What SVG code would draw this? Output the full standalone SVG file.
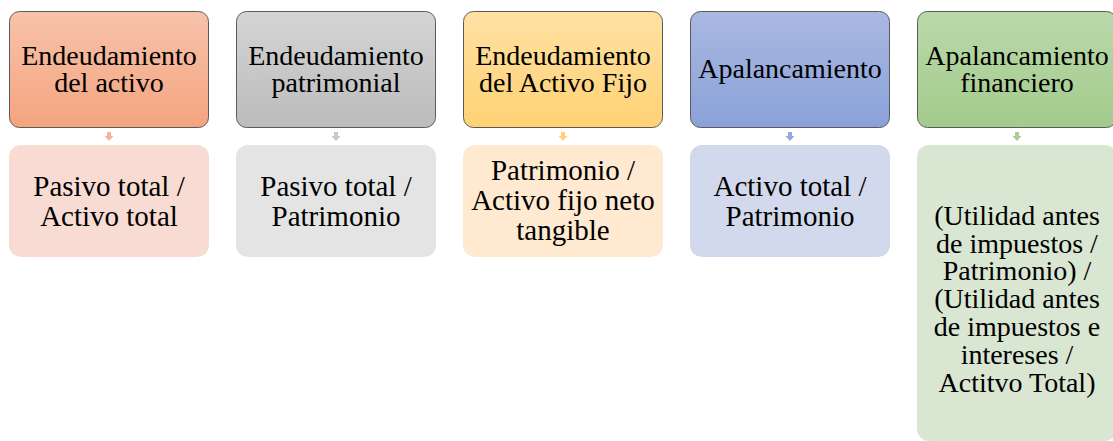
<svg xmlns="http://www.w3.org/2000/svg" width="1113" height="441" viewBox="0 0 1113 441">
<style>
.top{stroke:#5a5a5a;stroke-width:1}
text{font-family:'Liberation Serif','Tinos','DejaVu Serif',serif;fill:#000;text-anchor:middle}
.t{font-size:28px}
.b{font-size:29px}
.s{font-size:28px}
</style>
<defs>
<linearGradient id="gO" x1="0" y1="0" x2="0" y2="1"><stop offset="0" stop-color="#f7c3ab"/><stop offset="1" stop-color="#f4a47f"/></linearGradient>
<linearGradient id="gG" x1="0" y1="0" x2="0" y2="1"><stop offset="0" stop-color="#d4d4d4"/><stop offset="1" stop-color="#bcbcbc"/></linearGradient>
<linearGradient id="gY" x1="0" y1="0" x2="0" y2="1"><stop offset="0" stop-color="#ffe1a3"/><stop offset="1" stop-color="#ffd274"/></linearGradient>
<linearGradient id="gB" x1="0" y1="0" x2="0" y2="1"><stop offset="0" stop-color="#aab8e1"/><stop offset="1" stop-color="#8aa1d9"/></linearGradient>
<linearGradient id="gN" x1="0" y1="0" x2="0" y2="1"><stop offset="0" stop-color="#bad9aa"/><stop offset="1" stop-color="#a3cb8c"/></linearGradient>
<path id="arr" d="M-2,0 H2 V4 H4.5 L0,9 L-4.5,4 H-2 Z"/>
</defs>
<g id="connectors">
<use href="#arr" x="109" y="132" fill="#f5b59a"/>
<use href="#arr" x="336" y="132" fill="#c8c8c8"/>
<use href="#arr" x="563" y="132" fill="#ffd27a"/>
<use href="#arr" x="790" y="132" fill="#95a9dc"/>
<use href="#arr" x="1017" y="132" fill="#a8ce94"/>
</g>
<g id="node1" font-family="Liberation Serif, serif">
<rect class="top" x="9.5" y="11.5" width="199" height="116" rx="10" fill="url(#gO)"/>
<text class="t" x="109" y="65">Endeudamiento</text>
<text class="t" x="109" y="92">del activo</text>
</g>
<g id="node1b">
<rect x="9" y="145" width="200" height="112" rx="12" fill="#f8dbd2"/>
<text class="b" x="109" y="196">Pasivo total /</text>
<text class="b" x="109" y="226">Activo total</text>
</g>
<g id="node2">
<rect class="top" x="236.5" y="11.5" width="199" height="116" rx="10" fill="url(#gG)"/>
<text class="t" x="336" y="65">Endeudamiento</text>
<text class="t" x="336" y="92">patrimonial</text>
</g>
<g id="node2b">
<rect x="236" y="145" width="200" height="112" rx="12" fill="#e4e4e4"/>
<text class="b" x="336" y="196">Pasivo total /</text>
<text class="b" x="336" y="226">Patrimonio</text>
</g>
<g id="node3">
<rect class="top" x="463.5" y="11.5" width="199" height="116" rx="10" fill="url(#gY)"/>
<text class="t" x="563" y="65">Endeudamiento</text>
<text class="t" x="563" y="92">del Activo Fijo</text>
</g>
<g id="node3b">
<rect x="463" y="145" width="200" height="112" rx="12" fill="#ffe9d0"/>
<text class="b" x="563" y="180">Patrimonio /</text>
<text class="b" x="563" y="210">Activo fijo neto</text>
<text class="b" x="563" y="240">tangible</text>
</g>
<g id="node4">
<rect class="top" x="690.5" y="11.5" width="199" height="116" rx="10" fill="url(#gB)"/>
<text class="t" x="790" y="78">Apalancamiento</text>
</g>
<g id="node4b">
<rect x="690" y="145" width="200" height="112" rx="12" fill="#d3d9ec"/>
<text class="b" x="790" y="196">Activo total /</text>
<text class="b" x="790" y="226">Patrimonio</text>
</g>
<g id="node5">
<rect class="top" x="917.5" y="11.5" width="199" height="116" rx="10" fill="url(#gN)"/>
<text class="t" x="1017" y="65">Apalancamiento</text>
<text class="t" x="1017" y="92">financiero</text>
</g>
<g id="node5b">
<rect x="917" y="145" width="200" height="296" rx="12" fill="#d9e6d1"/>
<text class="s" x="1017" y="225">(Utilidad antes</text>
<text class="s" x="1017" y="253">de impuestos /</text>
<text class="s" x="1017" y="280">Patrimonio) /</text>
<text class="s" x="1017" y="308">(Utilidad antes</text>
<text class="s" x="1017" y="336">de impuestos e</text>
<text class="s" x="1017" y="364">intereses /</text>
<text class="s" x="1017" y="392">Actitvo Total)</text>
</g>
</svg>
